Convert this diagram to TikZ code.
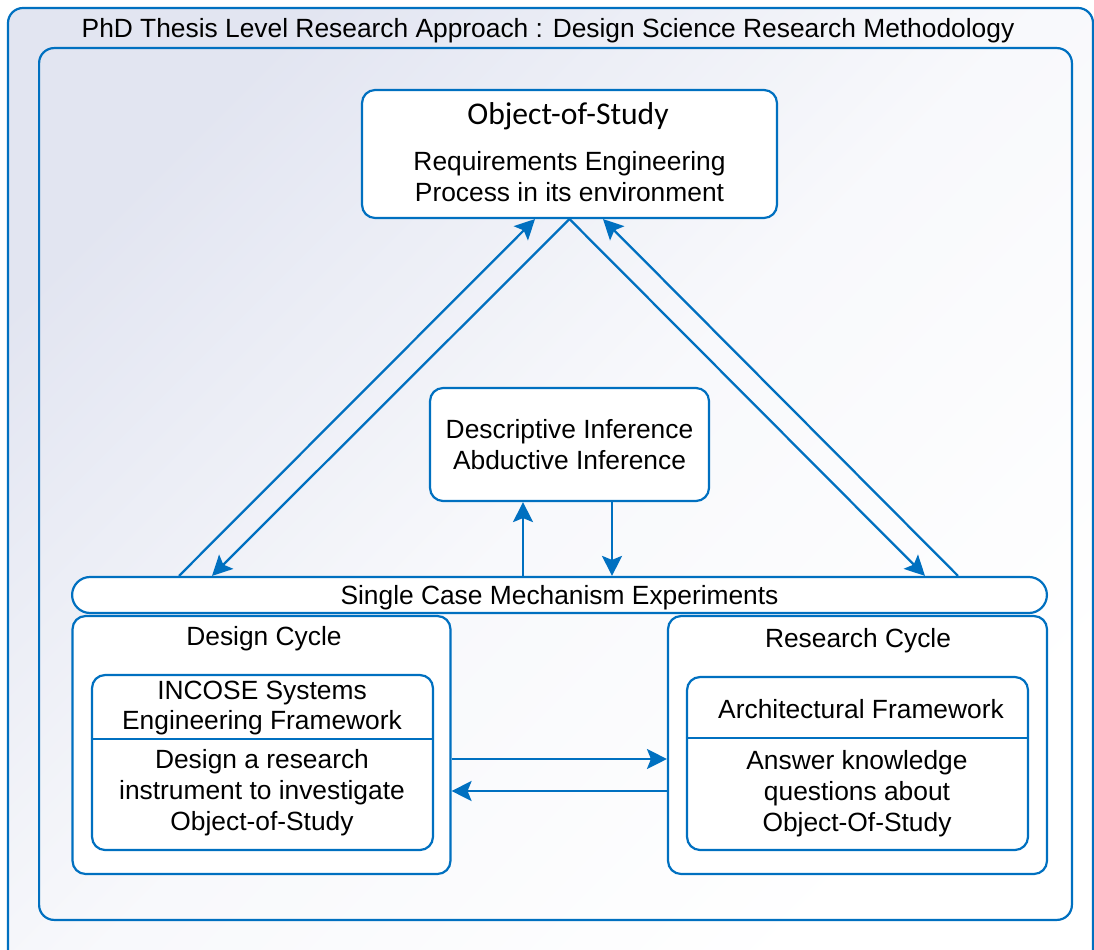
\documentclass[tikz,border=0pt]{standalone}
\usepackage{fontspec}
\setmainfont{Liberation Sans}
\newfontfamily\calibri{Carlito}
\usetikzlibrary{positioning,calc,arrows.meta}
\definecolor{msblue}{HTML}{0070C0}
\definecolor{bgblue}{HTML}{E2E5F1}

\begin{document}
\begin{tikzpicture}[x=0.02cm,y=-0.02cm,
		every node/.style={font=\fontsize{15}{17.6}\selectfont},
		frame/.style={draw=msblue,line width=1.25pt,rounded corners=0.3cm},
		box/.style={draw=msblue,line width=1.25pt,fill=white,rounded corners=0.26cm},
		divider/.style={draw=msblue,line width=0.9pt},
		arr/.style={draw=msblue,line width=1.3pt,-{Stealth[length=0.4cm,width=0.4cm,inset=0.08cm]}},
		txt/.style={align=center,inner sep=0pt}]
		\useasboundingbox (0,0) rectangle (1094,949);
		\clip (0,0) rectangle (1094,949);
		\draw[frame,top color=bgblue,bottom color=white,middle color=bgblue!25!white,shading angle=45] (8,8) rectangle (1093,964);
		\node[txt] (title) at (548,31) {PhD Thesis Level Research Approach : Design Science Research Methodology};
		\node[frame,minimum width=20.66cm,minimum height=17.44cm] (inner) at (555.5,484) {};

		\node[box,minimum width=8.3cm,minimum height=2.56cm] (obj) at (569.5,154) {};
		\node[txt,font=\calibri\fontsize{18}{20}\selectfont] (objtitle) at (568,116) {Object-of-Study};
		\node[txt] (objtext) at (569.5,177) {Requirements Engineering\\Process in its environment};

		\node[box,align=center,minimum width=5.58cm,minimum height=2.26cm] (inf) at (569.5,444.5) {Descriptive Inference\\Abductive Inference};

		\node[box,rounded corners=0.36cm,minimum width=19.5cm,minimum height=0.72cm,inner sep=0pt,text depth=0pt] (scm) at (559.5,595) {Single Case Mechanism Experiments};

		\node[box,minimum width=7.56cm,minimum height=5.16cm] (design) at (261.5,745) {};
		\node[txt] (designlbl) at (264,639) {Design Cycle};
		\node[box,minimum width=6.82cm,minimum height=3.5cm] (incose) at (262.5,762.5) {};
		\draw[divider] ($(incose.west)+(0,-23.5)$) -- ($(incose.east)+(0,-23.5)$);
		\node[txt] (incosetop) at (262,708) {INCOSE Systems\\Engineering Framework};
		\node[txt] (incosebot) at (262,793) {Design a research\\instrument to investigate\\Object-of-Study};

		\node[box,minimum width=7.58cm,minimum height=5.16cm] (research) at (857.5,745) {};
		\node[txt] (researchlbl) at (858,641) {Research Cycle};
		\node[box,minimum width=6.82cm,minimum height=3.46cm] (arch) at (857.5,763.5) {};
		\draw[divider] ($(arch.west)+(0,-25.5)$) -- ($(arch.east)+(0,-25.5)$);
		\node[txt] (archtop) at (861,709) {Architectural Framework};
		\node[txt] (archbot) at (857,794) {Answer knowledge\\questions about\\Object-Of-Study};

		\draw[arr] ($(scm.north)+(-380.5,0)$) -- ($(obj.south)+(-34.5,0)$);
		\draw[arr] (obj.south) -- ($(scm.north)+(-347.5,0)$);
		\draw[arr] (obj.south) -- ($(scm.north)+(365.5,0)$);
		\draw[arr] ($(scm.north)+(398.5,0)$) -- ($(obj.south)+(33.5,0)$);

		\coordinate (infup) at ($(inf.south)+(-46.5,0)$);
		\coordinate (infdown) at ($(inf.south)+(42.5,0)$);
		\draw[arr] (infup |- scm.north) -- (infup);
		\draw[arr] (infdown) -- (infdown |- scm.north);

		\coordinate (fwd) at ($(design.east)+(0,14)$);
		\coordinate (back) at ($(design.east)+(0,46)$);
		\draw[arr] (fwd) -- (fwd -| research.west);
		\draw[arr] (back -| research.west) -- (back);
	\end{tikzpicture}
\end{document}
